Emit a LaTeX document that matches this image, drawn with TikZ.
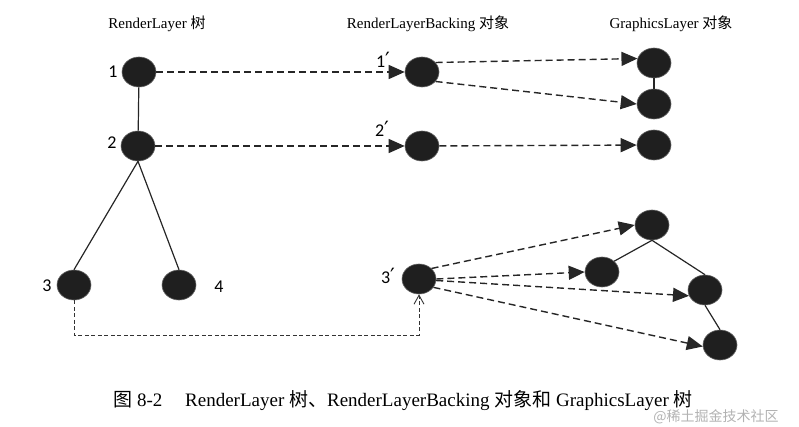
\documentclass[tikz,border=0pt]{standalone}
\usepackage{fontspec}
\setmainfont{Liberation Serif}
\newfontfamily\cjk{Noto Sans CJK SC}
\newfontfamily\lab{Carlito}
\newfontfamily\djv{DejaVu Sans}
\usetikzlibrary{shapes.geometric,arrows.meta}
\newcommand{\prm}{{\djv\fontsize{21}{21}\selectfont ′}}
\begin{document}
\begin{tikzpicture}[x=1pt,y=-1pt,
  ball/.style={ellipse,minimum width=34pt,minimum height=30pt,inner sep=0pt,fill=black!88,draw=black!60,line width=0.6pt},
  num/.style={font=\lab\fontsize{18}{18}\selectfont,inner sep=0pt},
  head/.style={font=\fontsize{15}{15}\selectfont,inner sep=0pt},
  tree/.style={line width=1.2pt,black!85},
  darr/.style={line width=1.4pt,black!85,dash pattern=on 7pt off 4pt,-{Triangle[length=16pt,width=14pt]}},
  thin/.style={line width=0.9pt,black!80,dash pattern=on 4pt off 2.5pt}
]
\useasboundingbox (0,0) rectangle (799,427);
% headers
\node[head] (h1) at (157,24) {RenderLayer {\cjk 树}};
\node[head] (h2) at (428,24) {RenderLayerBacking {\cjk 对象}};
\node[head] (h3) at (671,24) {GraphicsLayer {\cjk 对象}};
% RenderLayer tree
\node[ball] (r1) at (139,72) {};
\node[ball] (r2) at (138,146) {};
\node[ball] (r3) at (74,285) {};
\node[ball] (r4) at (179,285) {};
\node[num] (l1) at (113,72) {1};
\node[num] (l2) at (112,143) {2};
\node[num] (l3) at (47,286) {3};
\node[num] (l4) at (219,287) {4};
\draw[tree] (r1) -- (r2);
\draw[tree] (r2.south) -- (r3.north);
\draw[tree] (r2.south) -- (r4.north);
% RenderLayerBacking
\node[ball] (b1) at (422,72) {};
\node[ball] (b2) at (422,146) {};
\node[ball] (b3) at (419,279) {};
\node[num] (lb1) at (383,60) {1\prm};
\node[num] (lb2) at (382,129) {2\prm};
\node[num] (lb3) at (388,276) {3\prm};
% GraphicsLayer
\node[ball] (g1) at (654,63) {};
\node[ball] (g2) at (654,104) {};
\node[ball] (g3) at (654,145) {};
\node[ball] (ga) at (652,225) {};
\node[ball] (gb) at (602,272) {};
\node[ball] (gc) at (705,290) {};
\node[ball] (gd) at (720,345) {};
\draw[tree] (g1) -- (g2);
\draw[tree] (ga.south) -- (gb.north east);
\draw[tree] (ga.south) -- (gc.north);
\draw[tree] (gc.south) -- (gd.north);
% dashed arrows
\draw[darr] (r1) -- (b1);
\draw[darr] (r2) -- (b2);
\draw[darr] (b1.35) -- (g1.165);
\draw[darr] (b1.-35) -- (g2.180);
\draw[darr] (b2) -- (g3);
\draw[darr] (b3.40) -- (ga.180);
\draw[darr] (b3.0) -- (gb.180);
\draw[darr] (b3.-5) -- (gc.200);
\draw[darr] (b3.-30) -- (gd.185);
% 3 -> 3'
\coordinate (k1) at (74,335);
\coordinate (k2) at (419,335);
\draw[thin,-{Straight Barb[length=9pt,width=10pt,line width=0.9pt]}] (r3.south) -- (k1) -- (k2) -- (b3.south);
% caption
\node[font=\fontsize{19}{20}\selectfont,inner sep=0pt] (cap) at (403,401) {{\cjk 图} 8-2\hspace{1.2em}RenderLayer {\cjk 树、}RenderLayerBacking {\cjk 对象和} GraphicsLayer {\cjk 树}};
\node[font=\cjk\fontsize{14}{14}\selectfont,text=black!30,inner sep=0pt] (wm) at (716,417) {@稀土掘金技术社区};
\end{tikzpicture}
\end{document}
